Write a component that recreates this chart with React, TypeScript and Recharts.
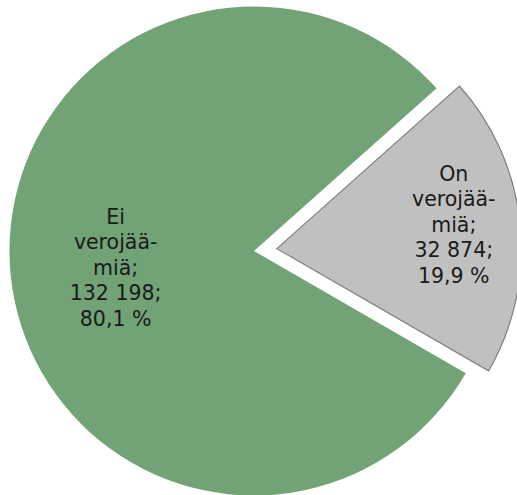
import { Cell, Pie, PieChart } from "recharts";

const categories = ["Ei verojäämiä", "On verojäämiä"];
const values = [132198, 32874];
const labelLines = [
  ["Ei", "verojää-", "miä;", "132 198;", "80,1 %"],
  ["On", "verojää-", "miä;", "32 874;", "19,9 %"],
];

const colors = ["#71a377", "#c0c0c0"];
const startAngle = 41.7;
const explode = 23;
const labelRadius = [0.57, 0.73];
const labelTurn = [1, 1.8];

const data = categories.map((name, i) => ({ name, value: values[i] }));
const total = values.reduce((a, b) => a + b, 0);
const greyMid = startAngle + (360 * (values[0] + values[1] / 2)) / total;
const RAD = Math.PI / 180;

const CX = 254;
const CY = 251;
const R = 244.5;

function makeLabel(only: number) {
  return (props: any) => {
    const { cx, cy, midAngle, outerRadius, index } = props;
    if (index !== only) return null;
    const r = outerRadius * labelRadius[index];
    const a = (midAngle + labelTurn[index]) * RAD;
    const x = cx + r * Math.cos(-a);
    const y = cy + r * Math.sin(-a);
    const lines = labelLines[index];
    const lh = 25.5;
    const y0 = y - ((lines.length - 1) / 2) * lh;
    return (
      <text
        x={x}
        y={y0}
        textAnchor="middle"
        dominantBaseline="central"
        fontFamily="DejaVu Sans, Verdana, sans-serif"
        fontSize={20.5}
        fill="#1a1a1a"
      >
        {lines.map((l, k) => (
          <tspan key={k} x={x} y={y0 + k * lh}>
            {l}
          </tspan>
        ))}
      </text>
    );
  };
}

export default function App() {
  return (
    <div style={{ position: "absolute", left: 0, top: 0, background: "#fff" }}>
      <PieChart width={517} height={495} margin={{ top: 0, right: 0, bottom: 0, left: 0 }}>
        <Pie
          data={data}
          dataKey="value"
          cx={CX}
          cy={CY}
          outerRadius={R}
          startAngle={startAngle}
          endAngle={startAngle + 360}
          stroke="none"
          label={makeLabel(0)}
          labelLine={false}
          isAnimationActive={false}
        >
          <Cell fill={colors[0]} />
          <Cell fill="none" />
        </Pie>
        <Pie
          data={data}
          dataKey="value"
          cx={CX + explode * Math.cos(greyMid * RAD)}
          cy={CY - explode * Math.sin(greyMid * RAD)}
          outerRadius={R}
          startAngle={startAngle}
          endAngle={startAngle + 360}
          label={makeLabel(1)}
          labelLine={false}
          isAnimationActive={false}
        >
          <Cell fill="none" stroke="none" />
          <Cell fill={colors[1]} stroke="#808080" strokeWidth={1.2} />
        </Pie>
      </PieChart>
    </div>
  );
}
